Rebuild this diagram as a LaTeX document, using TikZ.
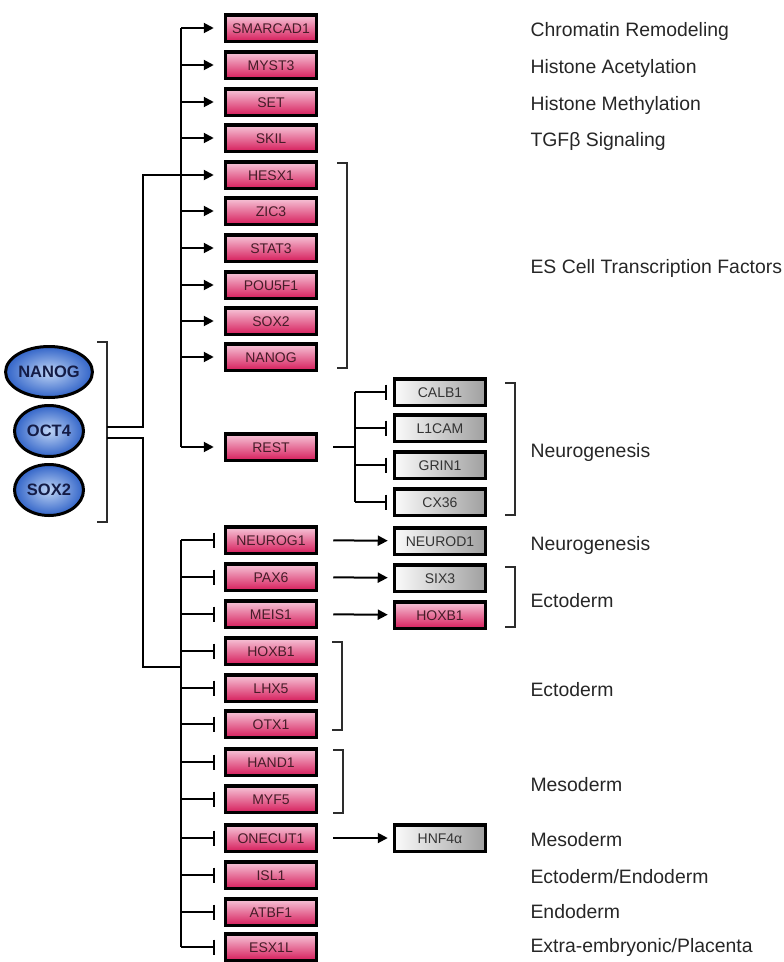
\documentclass[tikz,border=0pt]{standalone}
\usepackage{fontspec}
\setmainfont{Liberation Sans}
\usepackage{tikz}
\usetikzlibrary{arrows.meta,shapes.geometric,calc}
\definecolor{pinktop}{RGB}{247,200,218}
\definecolor{pinkbot}{RGB}{214,30,92}
\definecolor{greyleft}{RGB}{250,250,250}
\definecolor{greyright}{RGB}{160,160,160}
\definecolor{bluein}{RGB}{190,212,245}
\definecolor{blueout}{RGB}{50,100,200}
\definecolor{navytext}{RGB}{20,28,70}
\definecolor{genetext}{RGB}{70,28,40}
\definecolor{bracketgrey}{RGB}{45,45,45}

\tikzset{
  box/.style={draw=black, line width=3.5pt, minimum width=91pt, minimum height=26.5pt,
    inner sep=0pt, text height=10pt, text depth=0pt, font=\fontsize{14}{14}\selectfont},
  gene/.style={box, top color=pinktop, bottom color=pinkbot, text=genetext},
  target/.style={box, left color=greyleft, right color=greyright, text=black!80},
  tf/.style={ellipse, draw=black, line width=3pt, minimum width=69pt, minimum height=51pt,
    inner sep=0pt, inner color=bluein, outer color=blueout, text=navytext,
    text height=11.8pt, text depth=0pt, font=\fontsize{16.5}{16.5}\selectfont\bfseries},
  link/.style={line width=2pt, black},
  act/.style={link, -{Triangle[length=10pt, width=10pt]}},
  inhib/.style={link, -{Bar[width=15pt]}},
  grp/.style={line width=2pt, bracketgrey},
  role/.style={anchor=base west, yshift=-7pt, font=\fontsize{19.4}{19.4}\selectfont, text=black!85}
}

\begin{document}
\begin{tikzpicture}[x=1pt, y=-1pt]
    \useasboundingbox (0,0) rectangle (784,962);

    % Regulators
    \node[tf] (nanogTF) at (49,372) {NANOG};
    \node[tf] (oct4TF) at (49,431) {OCT4};
    \node[tf] (sox2TF) at (49,490) {SOX2};
    \draw[grp] (97,342) -- (107,342) -- (107,522) -- (97,522);

    % Spines
    \coordinate (hubUp) at (107,427);
    \coordinate (hubDown) at (107,438);
    \coordinate (branchX) at (143,0);
    \coordinate (upSpine) at (181,0);
    \coordinate (downSpine) at (181,0);
    \coordinate (downJoin) at (181,667);
    \coordinate (restSpine) at (355,0);

    % Activated genes
    \node[gene] (smarcad1) at (271,28) {SMARCAD1};
    \node[gene] (myst3) at (271,65) {MYST3};
    \node[gene] (set) at (271,102) {SET};
    \node[gene] (skil) at (271,138) {SKIL};
    \node[gene] (hesx1) at (271,175) {HESX1};
    \node[gene] (zic3) at (271,211) {ZIC3};
    \node[gene] (stat3) at (271,248) {STAT3};
    \node[gene] (pou5f1) at (271,285) {POU5F1};
    \node[gene] (sox2) at (271,321) {SOX2};
    \node[gene] (nanog) at (271,357) {NANOG};
    \node[gene] (rest) at (271,447) {REST};

    % REST targets
    \node[target] (calb1) at (440,392) {CALB1};
    \node[target] (l1cam) at (440,428) {L1CAM};
    \node[target] (grin1) at (440,465) {GRIN1};
    \node[target] (cx36) at (440,502) {CX36};

    % Repressed genes
    \node[gene] (neurog1) at (271,540) {NEUROG1};
    \node[gene] (pax6) at (271,577) {PAX6};
    \node[gene] (meis1) at (271,614) {MEIS1};
    \node[gene] (hoxb1a) at (271,651) {HOXB1};
    \node[gene] (lhx5) at (271,688) {LHX5};
    \node[gene] (otx1) at (271,724) {OTX1};
    \node[gene] (hand1) at (271,762) {HAND1};
    \node[gene] (myf5) at (271,799) {MYF5};
    \node[gene] (onecut1) at (271,838) {ONECUT1};
    \node[gene] (isl1) at (271,875) {ISL1};
    \node[gene] (atbf1) at (271,912) {ATBF1};
    \node[gene] (esx1l) at (271,947) {ESX1L};

    % Downstream genes
    \node[target] (neurod1) at (440,541) {NEUROD1};
    \node[target] (six3) at (440,578) {SIX3};
    \node[gene] (hoxb1b) at (440,615) {HOXB1};
    \node[target] (hnf4a) at (440,838) {HNF4α};

    % Upper branch
    \draw[link] (hubUp) -| (branchX |- hesx1) -- (upSpine |- hesx1);
    \draw[link] (upSpine |- smarcad1) -- (upSpine |- rest);
    \foreach \g in {smarcad1,myst3,set,skil,hesx1,zic3,stat3,pou5f1,sox2,nanog,rest}
        \draw[act, shorten >=10pt] (upSpine |- \g) -- (\g);

    % REST branch
    \draw[link, shorten <=15pt] (rest) -- (restSpine |- rest);
    \draw[link] (restSpine |- calb1) -- (restSpine |- cx36);
    \foreach \g in {calb1,l1cam,grin1,cx36}
        \draw[inhib, shorten >=6pt] (restSpine |- \g) -- (\g);

    % Lower branch
    \draw[link] (hubDown) -| (branchX |- downJoin) -- (downJoin);
    \draw[link] (downSpine |- neurog1) -- (downSpine |- esx1l);
    \foreach \g in {neurog1,pax6,meis1,hoxb1a,lhx5,otx1,hand1,myf5,onecut1,isl1,atbf1,esx1l}
        \draw[inhib, shorten >=9pt] (downSpine |- \g) -- (\g);

    % Downstream arrows
    \draw[act, shorten <=15pt, shorten >=5pt] (neurog1) -- (neurod1);
    \draw[act, shorten <=15pt, shorten >=5pt] (pax6) -- (six3);
    \draw[act, shorten <=15pt, shorten >=5pt] (meis1) -- (hoxb1b);
    \draw[act, shorten <=15pt, shorten >=5pt] (onecut1) -- (hnf4a);

    % Brackets
    \draw[grp] (337,163) -- (347,163) -- (347,368) -- (337,368);
    \draw[grp] (505,383) -- (515,383) -- (515,515) -- (505,515);
    \draw[grp] (505,567) -- (515,567) -- (515,627) -- (505,627);
    \draw[grp] (332,642) -- (342,642) -- (342,730) -- (332,730);
    \draw[grp] (333,750) -- (343,750) -- (343,813) -- (333,813);

    % Roles
    \node[role] (lblChrom) at (527,29) {Chromatin Remodeling};
    \node[role] (lblAcet) at (527,66) {Histone Acetylation};
    \node[role] (lblMeth) at (527,103) {Histone Methylation};
    \node[role] (lblTgf) at (527,139) {TGFβ Signaling};
    \node[role] (lblEs) at (527,266) {ES Cell Transcription Factors};
    \node[role] (lblNeuroA) at (527,450) {Neurogenesis};
    \node[role] (lblNeuroB) at (527,543) {Neurogenesis};
    \node[role] (lblEctoA) at (527,600) {Ectoderm};
    \node[role] (lblEctoB) at (527,689) {Ectoderm};
    \node[role] (lblMesoA) at (527,784) {Mesoderm};
    \node[role] (lblMesoB) at (527,839) {Mesoderm};
    \node[role] (lblEctoEndo) at (527,876) {Ectoderm/Endoderm};
    \node[role] (lblEndo) at (527,911) {Endoderm};
    \node[role] (lblPlac) at (527,945) {Extra-embryonic/Placenta};
\end{tikzpicture}
\end{document}
